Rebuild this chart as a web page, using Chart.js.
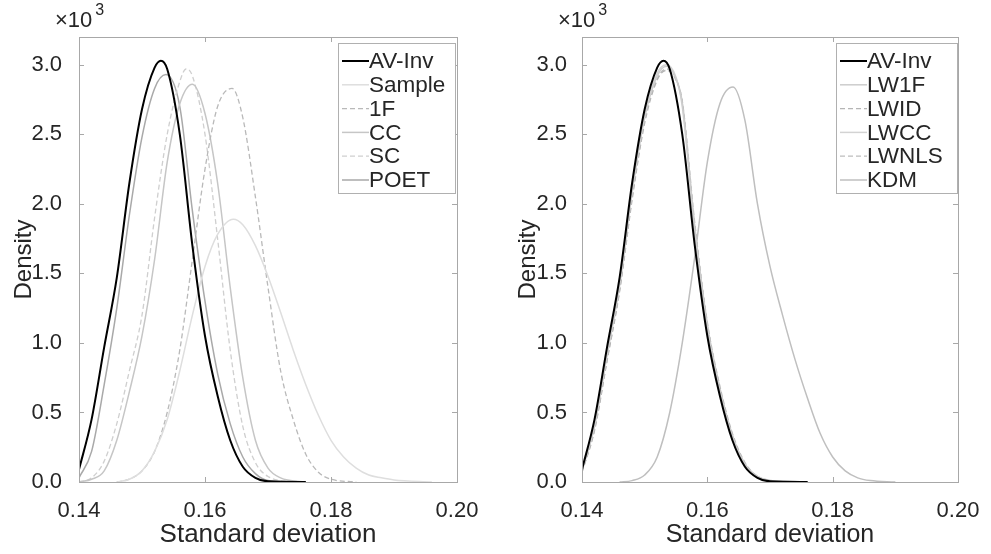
<!DOCTYPE html>
<html>
<head>
<meta charset="utf-8">
<script src="https://cdn.jsdelivr.net/npm/chart.js@4.4.0/dist/chart.umd.min.js"></script>
<style>
  html, body { margin: 0; padding: 0; background: #fff; }
  #wrap { position: relative; width: 991px; height: 554px; }
  #left { position: absolute; left: 0; top: 0; }
  #right { position: absolute; left: 495px; top: 0; }
</style>
</head>
<body>
<div id="wrap">
  <canvas id="left" width="495" height="554"></canvas>
  <canvas id="right" width="496" height="554"></canvas>
</div>
<script>
// tick values shared by both panels
const xTickVals = [0.14, 0.16, 0.18, 0.20];
const yTickVals = [0.0, 0.5, 1.0, 1.5, 2.0, 2.5, 3.0];

// density curves (x10^3)
const avInvX = [0.140, 0.142, 0.144, 0.146, 0.148, 0.150, 0.152, 0.153, 0.154, 0.156, 0.158, 0.160, 0.162, 0.164, 0.166, 0.168, 0.170, 0.176];
const avInvY = [0.09, 0.45, 0.97, 1.47, 2.15, 2.68, 2.98, 3.03, 2.97, 2.50, 1.70, 1.05, 0.62, 0.30, 0.11, 0.03, 0.005, 0];

// left panel
const sampleX = [0.146, 0.148, 0.150, 0.152, 0.154, 0.156, 0.158, 0.160, 0.162, 0.1645, 0.166, 0.168, 0.170, 0.172, 0.174, 0.176, 0.178, 0.180, 0.182, 0.184, 0.186, 0.188, 0.190, 0.196];
const sampleY = [0.0, 0.02, 0.08, 0.22, 0.45, 0.80, 1.20, 1.55, 1.78, 1.89, 1.85, 1.70, 1.48, 1.22, 0.95, 0.70, 0.48, 0.30, 0.18, 0.10, 0.05, 0.03, 0.015, 0];
const oneFX = [0.146, 0.148, 0.150, 0.152, 0.154, 0.156, 0.158, 0.160, 0.162, 0.1643, 0.166, 0.168, 0.170, 0.172, 0.174, 0.176, 0.178, 0.180, 0.184];
const oneFY = [0.0, 0.02, 0.08, 0.22, 0.50, 0.95, 1.60, 2.25, 2.70, 2.83, 2.62, 2.05, 1.40, 0.80, 0.45, 0.20, 0.07, 0.02, 0];
const ccX = [0.140, 0.142, 0.144, 0.146, 0.148, 0.150, 0.152, 0.154, 0.156, 0.158, 0.160, 0.162, 0.164, 0.166, 0.168, 0.170, 0.172, 0.176];
const ccY = [0.0, 0.02, 0.08, 0.30, 0.65, 1.05, 1.60, 2.30, 2.72, 2.86, 2.65, 2.15, 1.40, 0.75, 0.30, 0.10, 0.03, 0];
const scX = [0.140, 0.142, 0.144, 0.146, 0.148, 0.150, 0.152, 0.154, 0.156, 0.157, 0.158, 0.160, 0.162, 0.164, 0.166, 0.168, 0.170, 0.174];
const scY = [0.0, 0.03, 0.15, 0.42, 0.80, 1.20, 1.90, 2.50, 2.88, 2.97, 2.92, 2.50, 1.75, 0.95, 0.40, 0.14, 0.04, 0];
const poetX = [0.140, 0.142, 0.144, 0.146, 0.148, 0.150, 0.152, 0.1538, 0.156, 0.158, 0.160, 0.162, 0.164, 0.166, 0.168, 0.170, 0.174];
const poetY = [0.03, 0.22, 0.70, 1.25, 1.92, 2.48, 2.83, 2.93, 2.70, 1.95, 1.30, 0.78, 0.42, 0.18, 0.06, 0.01, 0];

// right panel
const lwX = [0.140, 0.142, 0.144, 0.146, 0.148, 0.150, 0.152, 0.1535, 0.155, 0.156, 0.158, 0.160, 0.162, 0.164, 0.166, 0.168, 0.170, 0.176];
const lw1fY = [0.08, 0.40, 0.91, 1.41, 2.08, 2.62, 2.92, 2.99, 2.90, 2.72, 1.82, 1.12, 0.66, 0.33, 0.13, 0.04, 0.01, 0];
const lwidY = [0.07, 0.37, 0.87, 1.37, 2.03, 2.58, 2.89, 2.96, 2.89, 2.74, 1.86, 1.15, 0.69, 0.35, 0.14, 0.04, 0.01, 0];
const lwccY = [0.08, 0.41, 0.93, 1.43, 2.10, 2.64, 2.94, 3.00, 2.91, 2.70, 1.80, 1.10, 0.65, 0.32, 0.12, 0.04, 0.01, 0];
const lwnlsY = [0.07, 0.38, 0.88, 1.38, 2.05, 2.60, 2.90, 2.97, 2.90, 2.73, 1.84, 1.14, 0.68, 0.34, 0.13, 0.04, 0.01, 0];
const kdmX = [0.146, 0.148, 0.150, 0.152, 0.154, 0.156, 0.158, 0.160, 0.162, 0.1641, 0.166, 0.168, 0.170, 0.172, 0.174, 0.176, 0.178, 0.180, 0.182, 0.184, 0.186, 0.190];
const kdmY = [0.0, 0.01, 0.05, 0.18, 0.50, 1.00, 1.62, 2.30, 2.72, 2.84, 2.60, 2.00, 1.55, 1.20, 0.88, 0.60, 0.35, 0.18, 0.08, 0.03, 0.01, 0];

const FONT = '"Liberation Sans", Arial, sans-serif';
Chart.defaults.font.family = FONT;
Chart.defaults.color = '#262626';

// legend boxes, kept outside chart options
const legendBox = {
  left: { x: 338, y: 43, w: 117, h: 150, rowH: 23.8 },
  right: { x: 341, y: 43, w: 121, h: 150, rowH: 23.8 }
};

function pts(xs, ys) {
  return xs.map((x, i) => ({ x: x, y: ys[i] }));
}

function series(label, xs, ys, color, width, dash) {
  return {
    label: label,
    data: pts(xs, ys),
    borderColor: color,
    borderWidth: width,
    borderDash: dash || [],
    pointRadius: 0,
    fill: false,
    cubicInterpolationMode: 'monotone'
  };
}

// matlab-like box, inward ticks, x10^3 and legend
const matlabAxes = {
  id: 'matlabAxes',
  afterDatasetsDraw(chart) {
    const ctx = chart.ctx;
    const a = chart.chartArea;
    const sx = chart.scales.x, sy = chart.scales.y;
    ctx.save();
    ctx.strokeStyle = '#a8a8a8';
    ctx.lineWidth = 1;
    ctx.setLineDash([]);
    ctx.beginPath();
    xTickVals.forEach(v => {
      const px = Math.round(sx.getPixelForValue(v)) + 0.5;
      ctx.moveTo(px, a.bottom); ctx.lineTo(px, a.bottom - 5);
      ctx.moveTo(px, a.top); ctx.lineTo(px, a.top + 5);
    });
    yTickVals.forEach(v => {
      const py = Math.round(sy.getPixelForValue(v)) + 0.5;
      ctx.moveTo(a.left, py); ctx.lineTo(a.left + 5, py);
      ctx.moveTo(a.right, py); ctx.lineTo(a.right - 5, py);
    });
    ctx.stroke();
    ctx.strokeRect(Math.round(a.left) + 0.5, Math.round(a.top) + 0.5, Math.round(a.width), Math.round(a.height));

    // exponent label
    ctx.fillStyle = '#262626';
    ctx.font = '22px ' + FONT;
    ctx.textBaseline = 'alphabetic';
    ctx.textAlign = 'left';
    ctx.fillText('\u00d710', a.left - 24, a.top - 10);
    const w = ctx.measureText('\u00d710').width;
    ctx.font = '16px ' + FONT;
    ctx.fillText('3', a.left - 21 + w, a.top - 22);

    // legend box
    const lg = legendBox[chart.canvas.id];
    const sets = chart.data.datasets;
    ctx.fillStyle = '#fff';
    ctx.fillRect(lg.x, lg.y, lg.w, lg.h);
    ctx.strokeStyle = '#b0b0b0';
    ctx.strokeRect(lg.x + 0.5, lg.y + 0.5, lg.w, lg.h);
    ctx.font = '22.5px ' + FONT;
    ctx.textBaseline = 'middle';
    sets.forEach((ds, i) => {
      const cy = lg.y + 18 + i * lg.rowH;
      ctx.beginPath();
      ctx.strokeStyle = ds.borderColor;
      ctx.lineWidth = ds.borderWidth;
      ctx.setLineDash(ds.borderDash);
      ctx.moveTo(lg.x + 4, cy);
      ctx.lineTo(lg.x + 31, cy);
      ctx.stroke();
      ctx.setLineDash([]);
      ctx.fillStyle = '#262626';
      ctx.fillText(ds.label, lg.x + 31, cy + 1);
    });
    ctx.restore();
  }
};

function makeChart(id, datasets, axisW, rightPad, tickPad, titlePad, xTitleSize) {
  return new Chart(document.getElementById(id), {
    type: 'line',
    data: { datasets: datasets },
    plugins: [matlabAxes],
    options: {
      responsive: false,
      animation: false,
      layout: { padding: { left: 0, right: rightPad, top: 37, bottom: 0 } },
      plugins: {
        legend: { display: false },
        tooltip: { enabled: false }
      },
      scales: {
        x: {
          type: 'linear',
          min: 0.14,
          max: 0.20,
          afterFit: function (s) { s.height = 72; },
          grid: { display: false },
          border: { display: false },
          ticks: {
            font: { size: 22 },
            padding: 8,
            maxRotation: 0,
            stepSize: 0.02,
            includeBounds: false,
            callback: function (v) { return Number(v).toFixed(2); }
          },
          title: {
            display: true,
            text: 'Standard deviation',
            font: { size: xTitleSize },
            padding: { top: 0, bottom: 4 }
          }
        },
        y: {
          type: 'linear',
          min: 0,
          max: 3.2,
          afterFit: function (s) { s.width = axisW; },
          grid: { display: false },
          border: { display: false },
          ticks: {
            font: { size: 22 },
            padding: tickPad,
            stepSize: 0.5,
            includeBounds: false,
            callback: function (v) { return Number(v).toFixed(1); }
          },
          title: {
            display: true,
            text: 'Density',
            font: { size: 24 },
            padding: { top: titlePad, bottom: 0 }
          }
        }
      }
    }
  });
}

makeChart('left', [
  series('AV-Inv', avInvX, avInvY, '#000000', 2),
  series('Sample', sampleX, sampleY, '#dedede', 1.5),
  series('1F', oneFX, oneFY, '#b9b9b9', 1.3, [5, 3]),
  series('CC', ccX, ccY, '#c6c6c6', 1.5),
  series('SC', scX, scY, '#cfcfcf', 1.3, [5, 3]),
  series('POET', poetX, poetY, '#a9a9a9', 1.5)
], 79, 38, 9, 10, 26);

makeChart('right', [
  series('AV-Inv', avInvX, avInvY, '#000000', 2),
  series('LW1F', lwX, lw1fY, '#cdcdcd', 1.5),
  series('LWID', lwX, lwidY, '#b5b5b5', 1.3, [5, 3]),
  series('LWCC', lwX, lwccY, '#d3d3d3', 1.5),
  series('LWNLS', lwX, lwnlsY, '#bdbdbd', 1.3, [5, 3]),
  series('KDM', kdmX, kdmY, '#bfbfbf', 1.5)
], 87, 33, 7, 19, 25);
</script>
</body>
</html>
